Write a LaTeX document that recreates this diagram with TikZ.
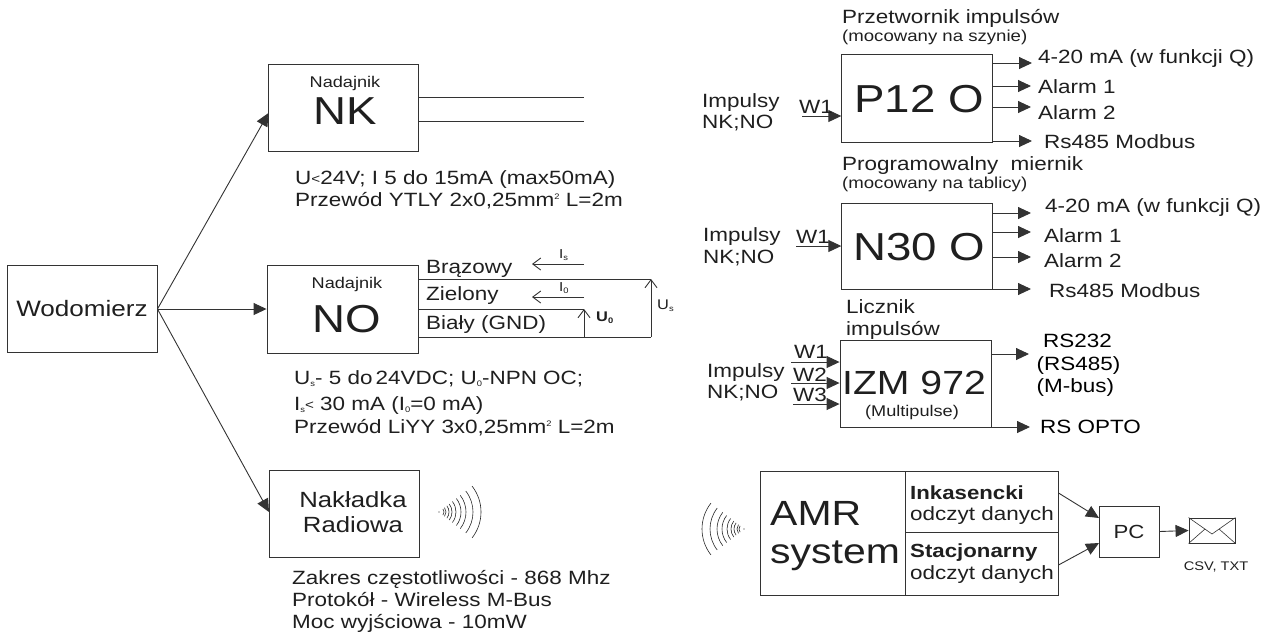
\documentclass[tikz,border=0pt]{standalone}
\usepackage{fontspec}
\setmainfont[FakeStretch=1.17]{Liberation Sans}
\usetikzlibrary{arrows.meta}
\newcommand{\lowidx}[1]{\raisebox{-2.5pt}{\fontsize{8}{8}\selectfont #1}}
\newcommand{\upidx}[1]{\raisebox{7pt}{\fontsize{8}{8}\selectfont #1}}
\newcommand{\smalllt}{\raisebox{1pt}{\fontsize{13}{13}\selectfont <}}
\tikzset{
    blok/.style={draw=black!80, line width=0.9pt, inner sep=0pt},
    opis/.style={anchor=base west, inner sep=0pt, text=black!88, font=\fontsize{19.2}{22}\selectfont},
    srodek/.style={anchor=base, inner sep=0pt, text=black!88},
    wielki/.style={srodek, font=\fontsize{39}{44}\selectfont},
    maly/.style={srodek, font=\fontsize{15.5}{18}\selectfont},
    strz/.style={draw=black!80, line width=0.9pt, -{Triangle[length=13pt,width=12pt]}},
    pomiar/.style={draw=black!80, line width=0.9pt, -{Straight Barb[length=8pt,width=12pt]}},
    linia/.style={draw=black!80, line width=0.9pt},
    fala/.style={draw=black!85, line width=0.6pt}
}
\begin{document}
\begin{tikzpicture}[x=1pt,y=-1pt]
    \useasboundingbox (0,0) rectangle (1265,633);

    % Wodomierz and the three transmitters
    \node[blok, minimum width=150pt, minimum height=87pt, font=\fontsize{22.3}{26}\selectfont, text=black!88] (wodomierz) at (82,309) {Wodomierz};
    \node[blok, minimum width=150pt, minimum height=87pt] (nk) at (343,107.5) {};
    \node[blok, minimum width=151pt, minimum height=88pt] (no) at (342.5,309) {};
    \node[blok, minimum width=150pt, minimum height=87pt] (radio) at (344,513.5) {};
    \coordinate (nkwej) at (268.5,113);
    \coordinate (radiowej) at (269,512);
    \draw[strz] (wodomierz.east) -- (nkwej);
    \draw[strz] (wodomierz.east) -- (no.west);
    \draw[strz] (wodomierz.east) -- (radiowej);

    % NK
    \node[maly] (nktyt) at (345,87) {Nadajnik};
    \node[wielki] (nkname) at (345,124) {NK};
    \coordinate (nka) at (584,97);
    \coordinate (nkb) at (584,121);
    \draw[linia] (nk.east |- nka) -- (nka);
    \draw[linia] (nk.east |- nkb) -- (nkb);
    \node[opis] (nkopis1) at (295,184) {U\smalllt24V; I 5 do 15mA (max50mA)};
    \node[opis] (nkopis2) at (295,206) {Przewód YTLY 2x0,25mm\upidx{2} L=2m};

    % NO
    \node[maly] (notyt) at (347,288) {Nadajnik};
    \node[wielki] (noname) at (347,332) {NO};
    \coordinate (brazowy) at (651,279);
    \coordinate (zielony) at (584,309);
    \coordinate (bialy) at (651,337);
    \coordinate (bialyu) at (584,337);
    \draw[linia] (no.east |- brazowy) -- (brazowy);
    \draw[linia] (no.east |- zielony) -- (zielony);
    \draw[linia] (no.east |- bialy) -- (bialy);
    \draw[pomiar] (bialyu) -- (zielony);
    \draw[pomiar] (bialy) -- (brazowy);
    \node[opis] (nobr) at (426,273) {Brązowy};
    \node[opis] (nozi) at (426,300) {Zielony};
    \node[opis] (nobi) at (426,329) {Biały (GND)};
    \coordinate (isa) at (584,264);
    \coordinate (isb) at (532,264);
    \coordinate (ioa) at (584,297);
    \coordinate (iob) at (532,297);
    \draw[pomiar] (isa) -- (isb);
    \draw[pomiar] (ioa) -- (iob);
    \node[opis, font=\fontsize{13}{15}\selectfont] (islab) at (559,258) {I\lowidx{s}};
    \node[opis, font=\fontsize{13}{15}\selectfont] (iolab) at (559,291) {I\lowidx{0}};
    \node[opis, font=\fontsize{14}{16}\bfseries\selectfont] (uolab) at (596,321) {U\lowidx{0}};
    \node[opis, font=\fontsize{14}{16}\selectfont] (uslab) at (657,309) {U\lowidx{s}};
    \node[opis] (noopis1) at (294,384) {U\lowidx{s}- 5 do\,24VDC; U\lowidx{0}-NPN OC;};
    \node[opis] (noopis2) at (294,410) {I\lowidx{s}\smalllt\ 30 mA (I\lowidx{0}=0 mA)};
    \node[opis] (noopis3) at (294,433) {Przewód LiYY 3x0,25mm\upidx{2} L=2m};

    % Nakladka radiowa
    \node[srodek, font=\fontsize{22}{25}\selectfont] (naktxt1) at (353,507) {Nakładka};
    \node[srodek, font=\fontsize{22}{25}\selectfont] (naktxt2) at (353,532) {Radiowa};
    \coordinate (falaR) at (439,512);
    \fill[black!85] (falaR) circle (0.6pt);
    \foreach \r in {5,7,10,13,17,22,27,34,42}
        \draw[fala] (falaR) ++(-38:\r) arc (-38:38:\r);
    \node[opis] (radopis1) at (292,584) {Zakres częstotliwości - 868 Mhz};
    \node[opis] (radopis2) at (292,606) {Protokół - Wireless M-Bus};
    \node[opis] (radopis3) at (292,628) {Moc wyjściowa - 10mW};

    % P12 O
    \node[opis] (ptyt1) at (842,23) {Przetwornik impulsów};
    \node[opis, font=\fontsize{15.9}{18}\selectfont] (ptyt2) at (842,41) {(mocowany na szynie)};
    \node[blok, minimum width=150.5pt, minimum height=88pt] (p12) at (917,98) {};
    \node[wielki] (p12name) at (919,112) {P12 O};
    \coordinate (pin) at (802,116);
    \coordinate (po1) at (1032,63);
    \coordinate (po2) at (1031,86);
    \coordinate (po3) at (1031,107);
    \coordinate (po4) at (1032,141);
    \draw[strz] (pin) -- (p12.west |- pin);
    \foreach \o in {po1,po2,po3,po4}
        \draw[strz] (p12.east |- \o) -- (\o);
    \node[opis] (pimp1) at (702,107) {Impulsy};
    \node[opis] (pimp2) at (702,128) {NK;NO};
    \node[opis] (pw1) at (799,113) {W1};
    \node[opis] (pt1) at (1038,63) {4-20 mA (w funkcji Q)};
    \node[opis] (pt2) at (1038,93) {Alarm 1};
    \node[opis] (pt3) at (1038,119) {Alarm 2};
    \node[opis] (pt4) at (1044,148) {Rs485 Modbus};

    % N30 O
    \node[opis] (ntyt1) at (842,170) {Programowalny\ \ miernik};
    \node[opis, font=\fontsize{15.9}{18}\selectfont] (ntyt2) at (842,188) {(mocowany na tablicy)};
    \node[blok, minimum width=150.5pt, minimum height=86pt] (n30) at (917,246) {};
    \node[wielki] (n30name) at (919,260) {N30 O};
    \coordinate (nin) at (796,246);
    \coordinate (no1) at (1031,213);
    \coordinate (no2) at (1031,232);
    \coordinate (no3) at (1031,257);
    \coordinate (no4) at (1031,289);
    \draw[strz] (nin) -- (n30.west |- nin);
    \foreach \o in {no1,no2,no3,no4}
        \draw[strz] (n30.east |- \o) -- (\o);
    \node[opis] (nimp1) at (703,241) {Impulsy};
    \node[opis] (nimp2) at (703,263) {NK;NO};
    \node[opis] (nw1) at (796,243) {W1};
    \node[opis] (nt1) at (1045,212) {4-20 mA (w funkcji Q)};
    \node[opis] (nt2) at (1044,242) {Alarm 1};
    \node[opis] (nt3) at (1044,267) {Alarm 2};
    \node[opis] (nt4) at (1049,297) {Rs485 Modbus};

    % IZM 972
    \node[opis] (ityt1) at (846,313) {Licznik};
    \node[opis] (ityt2) at (846,335) {impulsów};
    \node[blok, minimum width=151pt, minimum height=87pt] (izm) at (915.5,383.5) {};
    \node[srodek, font=\fontsize{33.5}{38}\selectfont] (izmname) at (914,394) {IZM 972};
    \node[maly] (izmsub) at (912,416) {(Multipulse)};
    \coordinate (iin1) at (791,362);
    \coordinate (iin2) at (791,383);
    \coordinate (iin3) at (793,404);
    \foreach \w in {iin1,iin2,iin3}
        \draw[strz] (\w) -- (izm.west |- \w);
    \coordinate (io1) at (1029,354);
    \coordinate (io2) at (1030,427);
    \draw[strz] (izm.east |- io1) -- (io1);
    \draw[strz] (izm.east |- io2) -- (io2);
    \node[opis] (iimp1) at (707,377) {Impulsy};
    \node[opis] (iimp2) at (707,398) {NK;NO};
    \node[opis] (iw1) at (794,358) {W1};
    \node[opis] (iw2) at (793,381) {W2};
    \node[opis] (iw3) at (793,401) {W3};
    \node[opis, text=black] (it1) at (1043,347) {RS232};
    \node[opis, text=black] (it2) at (1036.5,370) {(RS485)};
    \node[opis, text=black] (it3) at (1036.5,392) {(M-bus)};
    \node[opis, text=black] (it4) at (1040,433) {RS OPTO};

    % AMR
    \coordinate (falaL) at (744,529);
    \fill[black!85] (falaL) circle (0.6pt);
    \foreach \r in {5,7,10,13,17,22,27,34,42}
        \draw[fala] (falaL) ++(142:\r) arc (142:218:\r);
    \node[blok, minimum width=298pt, minimum height=124pt] (amr) at (909.5,533) {};
    \node[blok, minimum width=153.5pt, minimum height=61pt] (inkas) at (981.75,501.5) {};
    \node[blok, minimum width=153.5pt, minimum height=63pt] (stacj) at (981.75,563.5) {};
    \node[opis, font=\fontsize{35}{40}\selectfont] (amrtxt1) at (770,525) {AMR};
    \node[opis, font=\fontsize{35}{40}\selectfont] (amrtxt2) at (770,563) {system};
    \node[opis, font=\fontsize{19}{22}\bfseries\selectfont] (inktxt) at (910,499) {Inkasencki};
    \node[opis] (inkodcz) at (910,520) {odczyt danych};
    \node[opis, font=\fontsize{19}{22}\bfseries\selectfont] (statxt) at (910,557) {Stacjonarny};
    \node[opis] (staodcz) at (910,579) {odczyt danych};
    \node[blok, minimum width=60pt, minimum height=51pt, font=\fontsize{19}{22}\selectfont, text=black!88] (pc) at (1129,531.5) {PC};
    \node[blok, minimum width=46pt, minimum height=25pt] (koperta) at (1212,530.5) {};
    \coordinate (pcwej1) at (1099,518);
    \coordinate (pcwej2) at (1099,543);
    \coordinate (inkwyj) at (1058.5,493);
    \coordinate (stawyj) at (1058.5,565);
    \draw[strz] (inkwyj) -- (pcwej1);
    \draw[strz] (stawyj) -- (pcwej2);
    \draw[strz] (pc.east) -- (koperta.west);
    \coordinate (zgiecie) at (1212,534);
    \draw[linia, line width=0.6pt] (koperta.north west) -- (zgiecie) -- (koperta.north east);
    \draw[linia, line width=0.6pt] (koperta.south west) -- (1205,529);
    \draw[linia, line width=0.6pt] (koperta.south east) -- (1219,529);
    \node[srodek, font=\fontsize{12.5}{14}\selectfont] (csv) at (1216,570) {CSV, TXT};
\end{tikzpicture}
\end{document}
